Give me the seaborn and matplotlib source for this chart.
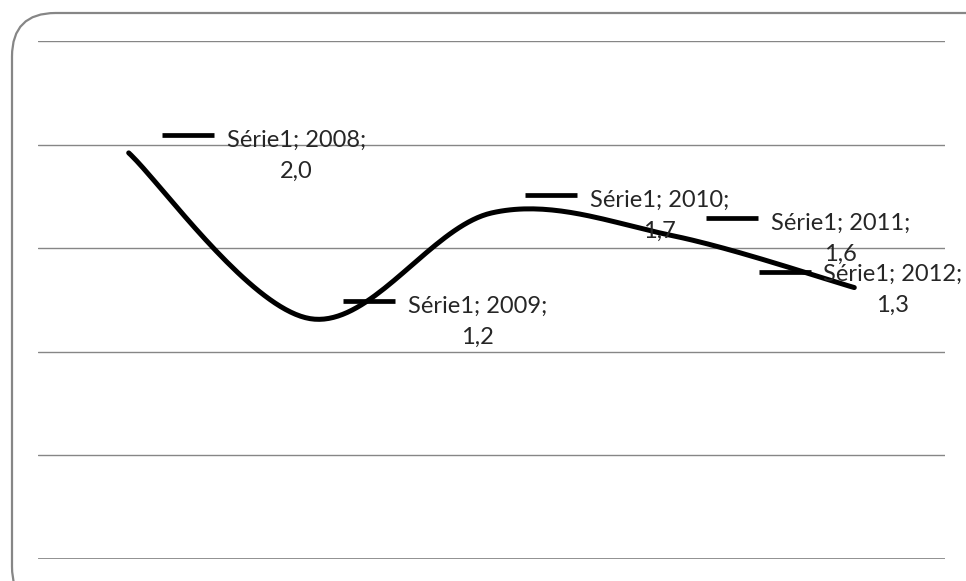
import matplotlib
matplotlib.use('Agg')
import matplotlib.pyplot as plt
import matplotlib.transforms as mtransforms
from matplotlib.patches import FancyBboxPatch
import seaborn as sns
import numpy as np
import pandas as pd

# data
series_name = "Série1"
years = ["2008", "2009", "2010", "2011", "2012"]
values = [1.96, 1.16, 1.67, 1.56, 1.31]
y_ticks = [0.5, 1.0, 1.5, 2.0, 2.5]

# label offsets in pixels (dash centre dx, dash dy, text dx, text dy), as placed in the original
label_offsets = [
    (59, 18, 98, 6),
    (59, 18, 98, 6),
    (59, 18, 98, 6),
    (59, 18, 98, 6),
    (-69, 16, -31, 7),
]

GRID = '#868686'

sns.set_style('white')
plt.rcParams['font.family'] = ['Lato', 'DejaVu Sans']

fig = plt.figure(figsize=(9.66, 5.81), dpi=100)
ax = fig.add_axes([38 / 966, 22 / 581, 907 / 966, 518 / 581])


def smooth_path(xs, ys, n=40):
    # Excel-like smoothed line: cubic Bezier with Catmull-Rom control points
    px = np.concatenate([[xs[0]], xs, [xs[-1]]])
    py = np.concatenate([[ys[0]], ys, [ys[-1]]])
    out_x, out_y = [], []
    t = np.linspace(0, 1, n)
    for i in range(1, len(px) - 2):
        p0 = np.array([px[i], py[i]])
        p3 = np.array([px[i + 1], py[i + 1]])
        p1 = p0 + (p3 - np.array([px[i - 1], py[i - 1]])) / 6
        p2 = p3 - (np.array([px[i + 2], py[i + 2]]) - p0) / 6
        b = ((1 - t) ** 3)[:, None] * p0 + (3 * (1 - t) ** 2 * t)[:, None] * p1 \
            + (3 * (1 - t) * t ** 2)[:, None] * p2 + (t ** 3)[:, None] * p3
        out_x.extend(b[:, 0])
        out_y.extend(b[:, 1])
    return np.array(out_x), np.array(out_y)


pos = np.arange(len(years))
sx, sy = smooth_path(pos.astype(float), np.array(values))
curve = pd.DataFrame({'x': sx, 'y': sy})
sns.lineplot(data=curve, x='x', y='y', ax=ax, color='black', lw=3.6,
             sort=False, estimator=None)

ax.set_xlim(-0.5, len(years) - 0.5)
ax.set_ylim(0, 2.5)
for y in y_ticks:
    ax.axhline(y, color=GRID, lw=1.0, zorder=0)
ax.axhline(0, color=GRID, lw=2.0, zorder=0)
for s in ax.spines.values():
    s.set_visible(False)
ax.set_xticks([])
ax.set_yticks([])
ax.set_xlabel('')
ax.set_ylabel('')
ax.patch.set_alpha(0)

# data labels with legend key
for i, (yr, v) in enumerate(zip(years, values)):
    ddx, ddy, tdx, tdy = label_offsets[i]
    off = mtransforms.offset_copy(ax.transData, fig=fig, x=ddx * 72 / 100,
                                  y=ddy * 72 / 100, units='points')
    ax.plot([i], [v], marker='_', ms=38, mew=3.4, color='black',
            transform=off, clip_on=False)
    t1 = ax.annotate(f"{series_name}; {yr};", xy=(i, v), xytext=(tdx, tdy),
                     textcoords='offset pixels', ha='left', va='baseline',
                     fontsize=17, color='#262626')
    ax.annotate(f"{v:.1f}".replace('.', ','), xy=(0.5, 0), xycoords=t1,
                xytext=(0, -27), textcoords='offset pixels', ha='center',
                va='baseline', fontsize=17, color='#262626')

# rounded chart border, cut off at right and bottom
border = FancyBboxPatch((12 / 966, -0.05), 1.1, 1.05 - 13 / 581,
                        boxstyle='round,pad=0,rounding_size=0.045',
                        transform=fig.transFigure, fill=False,
                        edgecolor=GRID, lw=1.6, mutation_aspect=966 / 581)
fig.patches.append(border)

fig.savefig('out.png', dpi=100)
plt.close()
